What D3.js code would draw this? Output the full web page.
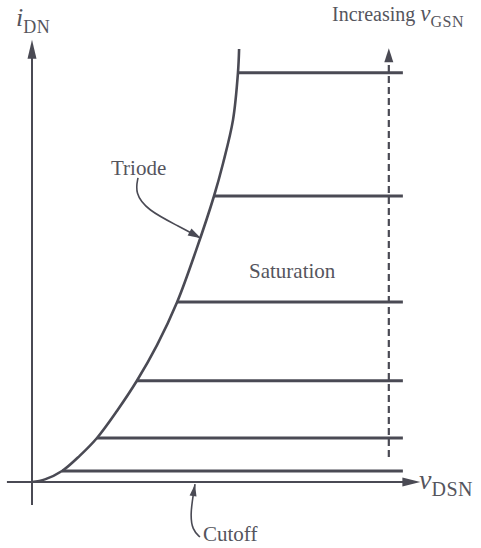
<!DOCTYPE html>
<html>
<head>
<meta charset="utf-8">
<script src="https://cdn.jsdelivr.net/npm/d3@7"></script>
<style>
  html, body { margin: 0; padding: 0; background: #ffffff; }
  svg { display: block; }
  text { font-family: "Liberation Serif", "Times New Roman", serif; fill: #55555d; }
</style>
</head>
<body>
<svg id="chart" width="481" height="548"></svg>
<script>
// ---- data (arbitrary units) ----
// triode / saturation boundary curve: vDSN values and iDN values
const boundaryV = [0, 0.34, 0.79, 1.26, 1.71, 2.24, 2.76, 3.29, 3.82, 4.32, 4.79, 5.03, 5.29, 5.42, 5.45];
const boundaryI = [0, 0.06, 0.25, 0.60, 1.00, 1.62, 2.30, 3.11, 4.09, 5.27, 6.50, 7.25, 8.23, 9.30, 9.84];
// saturation current levels (one per vGSN step), bottom to top
const satCurrents = [0.25, 1.00, 2.30, 4.09, 6.50, 9.30];
const satEndV = 9.76;
// "Increasing vGSN" dashed arrow
const gsnArrowV = 9.39;
const gsnArrowI = [0.57, 9.86];
// annotation pointer paths [v, i]
const triodePointer = [[2.79, 6.91], [2.71, 6.57], [3.03, 6.18], [3.89, 5.80], [4.40, 5.56]];
const cutoffPointer = [[4.42, -1.25], [4.22, -1.09], [4.16, -0.72], [4.29, -0.05]];
// labels
const labels = ["Triode", "Saturation", "Cutoff", "Increasing "];

// ---- scales ----
const x = d3.scaleLinear().domain([0, 10]).range([32, 412]);
const y = d3.scaleLinear().domain([0, 10]).range([482, 42]);

const svg = d3.select("#chart");
const ink = "#4a4a54";

const line = d3.line().x(d => x(d[0])).y(d => y(d[1]));

// helper: filled arrow head
function arrowHead(tip, dir, len, wid) {
  const [tx, ty] = tip;
  const [dx, dy] = dir;
  const bx = tx - dx * len, by = ty - dy * len;
  const nx = -dy, ny = dx;
  const pts = [[tx, ty], [bx + nx * wid / 2, by + ny * wid / 2], [bx - nx * wid / 2, by - ny * wid / 2]];
  svg.append("path")
    .attr("d", "M" + pts.map(p => p.join(",")).join("L") + "Z")
    .attr("fill", ink);
}

// axes
const xAxisStart = -0.66, xAxisEnd = 10.22;
const yAxisStart = -0.52, yAxisEnd = 10.05;
svg.append("line")
  .attr("x1", x(xAxisStart)).attr("x2", x(xAxisEnd) - 10)
  .attr("y1", y(0)).attr("y2", y(0))
  .attr("stroke", ink).attr("stroke-width", 2);
arrowHead([x(xAxisEnd), y(0)], [1, 0], 18, 9);

svg.append("line")
  .attr("x1", x(0)).attr("x2", x(0))
  .attr("y1", y(yAxisStart)).attr("y2", y(yAxisEnd) + 10)
  .attr("stroke", ink).attr("stroke-width", 2);
arrowHead([x(0), y(yAxisEnd)], [0, -1], 19, 9);

// dashed increasing vGSN arrow
svg.append("line")
  .attr("x1", x(gsnArrowV)).attr("x2", x(gsnArrowV))
  .attr("y1", y(gsnArrowI[0])).attr("y2", y(gsnArrowI[1]) + 12)
  .attr("stroke", ink).attr("stroke-width", 2.2)
  .attr("stroke-dasharray", "7,4");
arrowHead([x(gsnArrowV), y(gsnArrowI[1])], [0, -1], 14, 9);

// boundary curve
const boundary = boundaryV.map((v, k) => [v, boundaryI[k]]);
svg.append("path")
  .attr("d", d3.line().x(d => x(d[0])).y(d => y(d[1])).curve(d3.curveCatmullRom)(boundary))
  .attr("fill", "none").attr("stroke", ink).attr("stroke-width", 2.6);

// find v on boundary at a given current (linear interpolation of read points)
function vAt(i) {
  for (let k = 1; k < boundary.length; k++) {
    if (i <= boundary[k][1]) {
      const [v0, i0] = boundary[k - 1], [v1, i1] = boundary[k];
      return v0 + (v1 - v0) * (i - i0) / (i1 - i0);
    }
  }
  return boundary[boundary.length - 1][0];
}

// saturation lines
svg.selectAll("line.sat").data(satCurrents).join("line")
  .attr("class", "sat")
  .attr("x1", d => x(vAt(d))).attr("x2", x(satEndV))
  .attr("y1", d => y(d)).attr("y2", d => y(d))
  .attr("stroke", ink).attr("stroke-width", 3);

// pointers
svg.append("path")
  .attr("d", line.curve(d3.curveBasis)(triodePointer))
  .attr("fill", "none").attr("stroke", ink).attr("stroke-width", 1.6);
{
  const a = triodePointer[triodePointer.length - 2], b = triodePointer[triodePointer.length - 1];
  const dx = x(b[0]) - x(a[0]), dy = y(b[1]) - y(a[1]);
  const L = Math.hypot(dx, dy);
  arrowHead([x(b[0]) + 2 * dx / L, y(b[1]) + 2 * dy / L], [dx / L, dy / L], 13, 8);
}
svg.append("path")
  .attr("d", line.curve(d3.curveBasis)(cutoffPointer))
  .attr("fill", "none").attr("stroke", ink).attr("stroke-width", 1.6);
{
  const a = cutoffPointer[cutoffPointer.length - 2], b = cutoffPointer[cutoffPointer.length - 1];
  const dx = x(b[0]) - x(a[0]), dy = y(b[1]) - y(a[1]);
  const L = Math.hypot(dx, dy);
  arrowHead([x(b[0]), y(b[1])], [dx / L, dy / L], 12, 7);
}

// text labels
svg.append("text").attr("x", 111).attr("y", 175).attr("font-size", 21).text(labels[0]);
svg.append("text").attr("x", 249).attr("y", 278).attr("font-size", 21).text(labels[1]);
svg.append("text").attr("x", 203).attr("y", 541).attr("font-size", 21).text(labels[2]);

// axis titles
const yt = svg.append("text").attr("x", 16).attr("y", 26);
yt.append("tspan").attr("font-size", 26).attr("font-style", "italic").text("i");
yt.append("tspan").attr("font-size", 18).attr("dy", 7).attr("letter-spacing", 0.5).text("DN");

const xt = svg.append("text").attr("x", 419).attr("y", 489);
xt.append("tspan").attr("font-size", 28).attr("font-style", "italic").text("v");
xt.append("tspan").attr("font-size", 20).attr("dy", 7).attr("letter-spacing", 0.5).text("DSN");

const gt = svg.append("text").attr("x", 332).attr("y", 21);
gt.append("tspan").attr("font-size", 20).text(labels[3]);
gt.append("tspan").attr("font-size", 23).attr("font-style", "italic").text("v");
gt.append("tspan").attr("font-size", 16).attr("dy", 6).attr("letter-spacing", 0.5).text("GSN");
</script>
</body>
</html>
